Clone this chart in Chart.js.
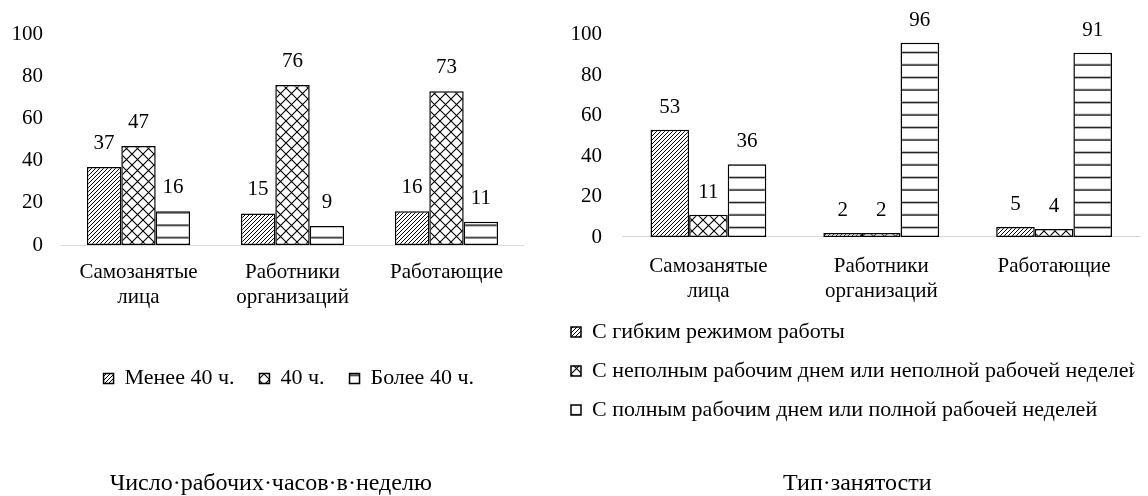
<!DOCTYPE html>
<html><head><meta charset="utf-8">
<script src="https://cdn.jsdelivr.net/npm/chart.js@4.4.1/dist/chart.umd.min.js"></script>
<style>
html,body{margin:0;padding:0;background:#fff;width:1148px;height:496px;overflow:hidden}
#w1{position:absolute;left:0;top:0;width:560px;height:496px}
#w2{position:absolute;left:560px;top:0;width:588px;height:496px}
</style></head><body>
<div id="w1"><canvas id="c1"></canvas></div>
<div id="w2"><canvas id="c2"></canvas></div>
<script>
// ---- data ----
const categories = [["Самозанятые","лица"],["Работники","организаций"],["Работающие"]];
const hoursNames = ["Менее 40 ч.","40 ч.","Более 40 ч."];
const hoursLess40 = [37,15,16];
const hours40 = [47,76,73];
const hoursMore40 = [16,9,11];
const typeNames = ["С гибким режимом работы","С неполным рабочим днем или неполной рабочей неделей","С полным рабочим днем или полной рабочей неделей"];
const typeFlexible = [53,2,5];
const typePartTime = [11,2,4];
const typeFullTime = [36,96,91];
const yTicks = [0,20,40,60,80,100];
const titles = ["Число·рабочих·часов·в·неделю","Тип·занятости"];

// ---- styling helpers ----
const FAM = "'Liberation Serif','Times New Roman',serif";
const font21 = {family:FAM,size:21,lineHeight:1.2};
const font22 = {family:FAM,size:22,lineHeight:1.2};

function patDiag(){
  const c=document.createElement('canvas');c.width=4;c.height=4;const x=c.getContext('2d');
  x.fillStyle='#fff';x.fillRect(0,0,4,4);x.strokeStyle='#000';x.lineWidth=1;
  x.beginPath();x.moveTo(-1,5);x.lineTo(5,-1);x.moveTo(-1,1);x.lineTo(1,-1);x.moveTo(3,5);x.lineTo(5,3);x.stroke();
  return x.createPattern(c,'repeat');
}
function patCross(){
  const P=11;const c=document.createElement('canvas');c.width=P;c.height=P;const x=c.getContext('2d');
  x.fillStyle='#fff';x.fillRect(0,0,P,P);x.strokeStyle='#000';x.lineWidth=1.1;
  x.beginPath();x.moveTo(-1,-1);x.lineTo(P+1,P+1);x.moveTo(P+1,-1);x.lineTo(-1,P+1);x.stroke();
  return x.createPattern(c,'repeat');
}
function patHoriz(off){
  const c=document.createElement('canvas');c.width=4;c.height=25;const x=c.getContext('2d');
  x.fillStyle='#fff';x.fillRect(0,0,4,25);x.fillStyle='#000';
  x.fillRect(0,0,4,1.4);x.fillRect(0,12.5,4,1.4);
  const p=x.createPattern(c,'repeat');
  if(p.setTransform) p.setTransform(new DOMMatrix().translate(0,off));
  return p;
}

const valueLabels = {
  id:'valueLabels',
  afterDatasetsDraw(chart,args,opts){
    const ctx=chart.ctx;ctx.save();
    ctx.font="21px "+FAM;ctx.fillStyle='#000';ctx.textAlign='center';ctx.textBaseline='middle';
    chart.data.datasets.forEach((ds,i)=>{
      chart.getDatasetMeta(i).data.forEach((bar,j)=>{
        ctx.fillText(String(ds.data[j]),bar.x,bar.y-opts.offset);
      });
    });
    ctx.restore();
  }
};
const nudge = {
  id:'nudge',
  afterLayout(chart,args,opts){
    if(opts.legend && chart.legend){chart.legend.left+=opts.legend;chart.legend.right+=opts.legend;}
    if(opts.title && chart.titleBlock){chart.titleBlock.left+=opts.title;chart.titleBlock.right+=opts.title;}
  }
};

function ds(label,data,bg){
  return {label,data,backgroundColor:bg,borderColor:'#000',borderWidth:1.5,borderSkipped:false,
    categoryPercentage:0.67,barPercentage:1};
}

function makeChart(id,cfg){
  return new Chart(document.getElementById(id),{
    type:'bar',
    data:{labels:categories,datasets:cfg.datasets},
    plugins:[valueLabels,nudge],
    options:{
      responsive:true,maintainAspectRatio:false,animation:false,events:[],
      layout:{padding:cfg.pad},
      scales:{
        x:{grid:{display:false,drawTicks:false},border:{display:true,color:'#d9d9d9',width:1},
           ticks:{font:font21,color:'#000',padding:cfg.xPad,maxRotation:0,autoSkip:false},
           afterFit(s){s.height=cfg.xH;}},
        y:{min:0,max:100,afterBuildTicks(s){s.ticks=yTicks.map(v=>({value:v}));},
           grid:{display:false,drawTicks:false},border:{display:false},
           ticks:{font:font21,color:'#000',padding:cfg.yPad},
           afterFit(s){s.width=cfg.yW;}}
      },
      plugins:{
        legend:{position:'bottom',align:cfg.legAlign,
          labels:{font:font22,color:'#000',boxWidth:10,boxHeight:10,padding:cfg.legPad}},
        title:{display:true,position:'bottom',text:cfg.title,color:'#000',
          font:{family:FAM,size:24,lineHeight:1,weight:'normal'},padding:{top:cfg.titleTop,bottom:0}},
        tooltip:{enabled:false},
        valueLabels:{offset:cfg.labOff},
        nudge:cfg.nudge
      }
    }
  });
}

makeChart('c1',{
  datasets:[ds(hoursNames[0],hoursLess40,patDiag()),ds(hoursNames[1],hours40,patCross()),ds(hoursNames[2],hoursMore40,patHoriz(-0.5))],
  pad:{top:34.4,left:0,right:36.5,bottom:0},
  xPad:15,xH:97.5,yPad:18.5,yW:61.5,
  legAlign:'center',legPad:25,title:titles[0],titleTop:72.5,labOff:23.5,
  nudge:{legend:27,title:9}
});
makeChart('c2',{
  datasets:[ds(typeNames[0],typeFlexible,patDiag()),ds(typeNames[1],typePartTime,patCross()),ds(typeNames[2],typeFullTime,patHoriz(1.7))],
  pad:{top:34.6,left:0,right:7.5,bottom:0},
  xPad:17,xH:67,yPad:20,yW:62,
  legAlign:'start',legPad:17,title:titles[1],titleTop:41,labOff:22.5,
  nudge:{legend:-6,title:7}
});
</script>
</body></html>
